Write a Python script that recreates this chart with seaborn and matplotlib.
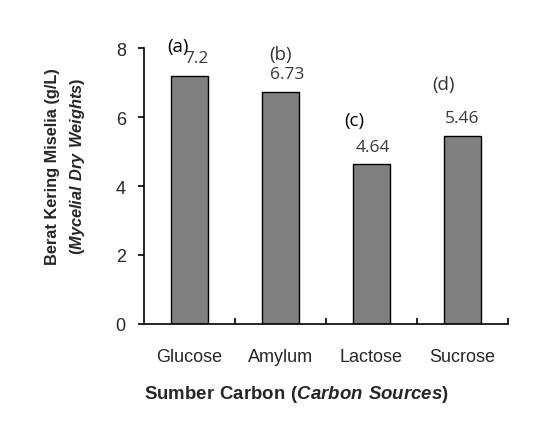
import matplotlib
matplotlib.use('Agg')
import matplotlib.pyplot as plt
import seaborn as sns
import pandas as pd

# dados
sumber = ['Glucose', 'Amylum', 'Lactose', 'Sucrose']
berat = [7.2, 6.73, 4.64, 5.46]
huruf = ['(a)', '(b)', '(c)', '(d)']
nilai_label = ['7.2', '6.73', '4.64', '5.46']

df = pd.DataFrame({'sumber': sumber, 'berat': berat})

sns.set_style('white')
plt.rcParams['font.family'] = ['Liberation Sans', 'DejaVu Sans']
plt.rcParams['mathtext.fontset'] = 'custom'
plt.rcParams['mathtext.rm'] = 'Liberation Sans'
plt.rcParams['mathtext.bf'] = 'Liberation Sans:bold'
plt.rcParams['mathtext.bfit'] = 'Liberation Sans:italic:bold'

fig = plt.figure(figsize=(5.39, 4.27), dpi=100)
ax = fig.add_axes([0.267, 0.2389, 0.6753, 0.6463])

sns.barplot(data=df, x='sumber', y='berat', color='#808080', saturation=1,
            width=0.4, edgecolor='black', linewidth=1, ax=ax)

ax.set_xlim(-0.5, 3.5)
ax.set_ylim(0, 8)
ax.set_yticks([0, 2, 4, 6, 8])

for s in ['top', 'right']:
    ax.spines[s].set_visible(False)
for s in ['left', 'bottom']:
    ax.spines[s].set_color('black')
    ax.spines[s].set_linewidth(1.2)

ax.tick_params(axis='y', direction='out', length=4, width=1.2, color='black',
               labelsize=13, pad=9, left=True)
ax.tick_params(axis='x', which='major', length=0, labelsize=13, pad=17)
ax.set_xticks([0.5, 1.5, 2.5, 3.5], minor=True)
ax.tick_params(axis='x', which='minor', direction='in', length=4, width=1.2,
               color='black', bottom=True)

# label nilai di atas batang
geser_x = [5, 5, 1, 0]
for i, (v, t) in enumerate(zip(berat, nilai_label)):
    ax.annotate(t, xy=(i, v), xytext=(geser_x[i], 12.5), textcoords='offset points',
                ha='center', va='center', fontsize=12.5, color='#383838',
                family=['Open Sans', 'DejaVu Sans'])

# huruf notasi
pos_huruf = [(-0.126, 8.05), (1.005, 7.83), (1.81, 5.92), (2.79, 6.97)]
warna_huruf = ['black', '#333333', 'black', '#333333']
for (x, y), h, w in zip(pos_huruf, huruf, warna_huruf):
    ax.text(x, y, h, ha='center', va='center', fontsize=13.5, color=w,
            family=['Open Sans', 'DejaVu Sans'], clip_on=False, zorder=5)

ax.set_xlabel('')
fig.text(0.549, 0.075,
         r'$\mathbf{Sumber\ Carbon\ (}\mathbfit{Carbon\ Sources}\mathbf{)}$',
         ha='center', va='center', fontsize=13.4)
fig.text(0.0965, 0.611, 'Berat Kering Miselia (g/L)', rotation=90,
         ha='center', va='center', fontsize=11.8, fontweight='bold')
fig.text(0.143, 0.611, r'$\mathbf{(}\mathbfit{Mycelial\ Dry\ Weights}\mathbf{)}$',
         rotation=90, ha='center', va='center', fontsize=11.8)
ax.set_ylabel('')

fig.savefig('out.png', dpi=100)
